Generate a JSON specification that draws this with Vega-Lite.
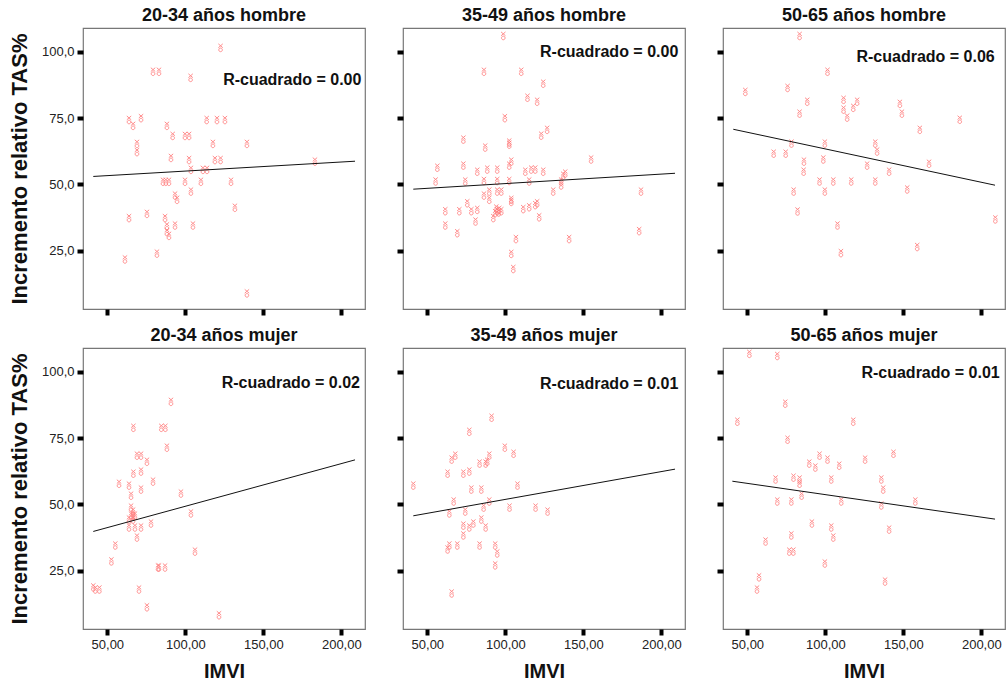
{
  "$schema": "https://vega.github.io/schema/vega-lite/v6.json",
  "background": "white",
  "padding": {"left": 7, "top": 6, "right": 0, "bottom": 0},
  "datasets": {
    "pts": [
      {"g":"H1","IMVI":122.6,"TAS":101.5},{"g":"H1","IMVI":79.3,"TAS":92.5},{"g":"H1","IMVI":83.1,"TAS":92.5},{"g":"H1","IMVI":103.4,"TAS":90.2},{"g":"H1","IMVI":63.9,"TAS":74.3},{"g":"H1","IMVI":66.5,"TAS":72.1},{"g":"H1","IMVI":71.6,"TAS":75.0},{"g":"H1","IMVI":88.2,"TAS":72.1},{"g":"H1","IMVI":91.9,"TAS":68.3},{"g":"H1","IMVI":99.8,"TAS":68.3},{"g":"H1","IMVI":102.4,"TAS":68.3},{"g":"H1","IMVI":113.7,"TAS":74.3},{"g":"H1","IMVI":120.3,"TAS":74.3},{"g":"H1","IMVI":125.4,"TAS":74.3},{"g":"H1","IMVI":117.7,"TAS":65.3},{"g":"H1","IMVI":139.5,"TAS":65.3},{"g":"H1","IMVI":69.0,"TAS":65.3},{"g":"H1","IMVI":69.0,"TAS":62.2},{"g":"H1","IMVI":90.8,"TAS":60.0},{"g":"H1","IMVI":102.4,"TAS":59.2},{"g":"H1","IMVI":119.0,"TAS":59.2},{"g":"H1","IMVI":122.6,"TAS":59.2},{"g":"H1","IMVI":183.1,"TAS":58.6},{"g":"H1","IMVI":103.6,"TAS":55.5},{"g":"H1","IMVI":111.3,"TAS":55.5},{"g":"H1","IMVI":113.9,"TAS":55.5},{"g":"H1","IMVI":85.7,"TAS":51.0},{"g":"H1","IMVI":87.5,"TAS":51.0},{"g":"H1","IMVI":89.5,"TAS":51.0},{"g":"H1","IMVI":99.8,"TAS":51.0},{"g":"H1","IMVI":110.0,"TAS":51.0},{"g":"H1","IMVI":129.3,"TAS":51.0},{"g":"H1","IMVI":103.6,"TAS":47.3},{"g":"H1","IMVI":93.4,"TAS":45.8},{"g":"H1","IMVI":94.7,"TAS":44.2},{"g":"H1","IMVI":131.8,"TAS":41.2},{"g":"H1","IMVI":63.9,"TAS":37.3},{"g":"H1","IMVI":75.4,"TAS":38.9},{"g":"H1","IMVI":87.0,"TAS":37.3},{"g":"H1","IMVI":88.2,"TAS":34.2},{"g":"H1","IMVI":93.4,"TAS":34.5},{"g":"H1","IMVI":104.9,"TAS":34.5},{"g":"H1","IMVI":88.2,"TAS":32.0},{"g":"H1","IMVI":89.5,"TAS":30.6},{"g":"H1","IMVI":61.3,"TAS":21.7},{"g":"H1","IMVI":81.8,"TAS":23.9},{"g":"H1","IMVI":139.5,"TAS":8.9},

      {"g":"H2","IMVI":98.7,"TAS":106.0},{"g":"H2","IMVI":86.3,"TAS":92.5},{"g":"H2","IMVI":110.2,"TAS":92.5},{"g":"H2","IMVI":124.3,"TAS":88.0},{"g":"H2","IMVI":114.2,"TAS":82.7},{"g":"H2","IMVI":120.4,"TAS":81.2},{"g":"H2","IMVI":99.7,"TAS":75.0},{"g":"H2","IMVI":123.0,"TAS":68.4},{"g":"H2","IMVI":126.8,"TAS":70.6},{"g":"H2","IMVI":73.1,"TAS":66.9},{"g":"H2","IMVI":87.1,"TAS":63.9},{"g":"H2","IMVI":102.5,"TAS":65.8},{"g":"H2","IMVI":102.5,"TAS":65.0},{"g":"H2","IMVI":56.4,"TAS":56.3},{"g":"H2","IMVI":73.1,"TAS":57.1},{"g":"H2","IMVI":82.0,"TAS":54.8},{"g":"H2","IMVI":88.4,"TAS":55.6},{"g":"H2","IMVI":94.8,"TAS":55.6},{"g":"H2","IMVI":103.8,"TAS":58.6},{"g":"H2","IMVI":102.5,"TAS":57.1},{"g":"H2","IMVI":112.8,"TAS":54.8},{"g":"H2","IMVI":116.6,"TAS":55.6},{"g":"H2","IMVI":119.2,"TAS":55.6},{"g":"H2","IMVI":124.3,"TAS":54.8},{"g":"H2","IMVI":155.0,"TAS":59.4},{"g":"H2","IMVI":55.3,"TAS":51.1},{"g":"H2","IMVI":74.3,"TAS":51.1},{"g":"H2","IMVI":86.3,"TAS":51.3},{"g":"H2","IMVI":94.8,"TAS":51.3},{"g":"H2","IMVI":102.5,"TAS":51.3},{"g":"H2","IMVI":115.3,"TAS":51.1},{"g":"H2","IMVI":135.8,"TAS":51.1},{"g":"H2","IMVI":137.1,"TAS":53.3},{"g":"H2","IMVI":138.4,"TAS":54.1},{"g":"H2","IMVI":135.8,"TAS":49.6},{"g":"H2","IMVI":130.7,"TAS":47.3},{"g":"H2","IMVI":187.0,"TAS":47.3},{"g":"H2","IMVI":89.7,"TAS":47.3},{"g":"H2","IMVI":94.8,"TAS":47.3},{"g":"H2","IMVI":97.4,"TAS":47.3},{"g":"H2","IMVI":86.3,"TAS":45.8},{"g":"H2","IMVI":89.7,"TAS":44.2},{"g":"H2","IMVI":103.8,"TAS":44.2},{"g":"H2","IMVI":103.8,"TAS":43.4},{"g":"H2","IMVI":75.6,"TAS":42.9},{"g":"H2","IMVI":82.0,"TAS":40.4},{"g":"H2","IMVI":78.2,"TAS":39.9},{"g":"H2","IMVI":70.5,"TAS":39.9},{"g":"H2","IMVI":61.5,"TAS":39.9},{"g":"H2","IMVI":94.8,"TAS":39.9},{"g":"H2","IMVI":96.1,"TAS":40.4},{"g":"H2","IMVI":97.4,"TAS":39.9},{"g":"H2","IMVI":93.5,"TAS":39.2},{"g":"H2","IMVI":95.7,"TAS":39.4},{"g":"H2","IMVI":94.2,"TAS":40.9},{"g":"H2","IMVI":92.3,"TAS":37.3},{"g":"H2","IMVI":111.5,"TAS":40.7},{"g":"H2","IMVI":115.3,"TAS":41.4},{"g":"H2","IMVI":119.2,"TAS":42.2},{"g":"H2","IMVI":120.4,"TAS":42.9},{"g":"H2","IMVI":121.7,"TAS":37.6},{"g":"H2","IMVI":61.5,"TAS":34.5},{"g":"H2","IMVI":69.2,"TAS":31.6},{"g":"H2","IMVI":80.9,"TAS":36.0},{"g":"H2","IMVI":185.8,"TAS":32.4},{"g":"H2","IMVI":106.8,"TAS":29.4},{"g":"H2","IMVI":140.9,"TAS":29.4},{"g":"H2","IMVI":103.8,"TAS":23.8},{"g":"H2","IMVI":105.1,"TAS":18.1},

      {"g":"H3","IMVI":83.5,"TAS":106.0},{"g":"H3","IMVI":101.4,"TAS":92.5},{"g":"H3","IMVI":48.7,"TAS":84.9},{"g":"H3","IMVI":75.8,"TAS":86.4},{"g":"H3","IMVI":88.4,"TAS":81.2},{"g":"H3","IMVI":111.7,"TAS":81.9},{"g":"H3","IMVI":111.7,"TAS":78.2},{"g":"H3","IMVI":120.4,"TAS":81.2},{"g":"H3","IMVI":117.9,"TAS":78.9},{"g":"H3","IMVI":114.0,"TAS":75.2},{"g":"H3","IMVI":83.5,"TAS":76.7},{"g":"H3","IMVI":147.8,"TAS":80.4},{"g":"H3","IMVI":149.1,"TAS":76.7},{"g":"H3","IMVI":186.2,"TAS":74.4},{"g":"H3","IMVI":160.6,"TAS":70.6},{"g":"H3","IMVI":78.3,"TAS":65.4},{"g":"H3","IMVI":99.7,"TAS":65.4},{"g":"H3","IMVI":132.0,"TAS":65.4},{"g":"H3","IMVI":133.2,"TAS":62.4},{"g":"H3","IMVI":66.9,"TAS":61.6},{"g":"H3","IMVI":74.6,"TAS":61.6},{"g":"H3","IMVI":86.3,"TAS":58.6},{"g":"H3","IMVI":98.7,"TAS":59.4},{"g":"H3","IMVI":86.1,"TAS":54.8},{"g":"H3","IMVI":126.8,"TAS":57.1},{"g":"H3","IMVI":140.9,"TAS":54.8},{"g":"H3","IMVI":166.5,"TAS":57.8},{"g":"H3","IMVI":96.3,"TAS":51.1},{"g":"H3","IMVI":105.1,"TAS":51.1},{"g":"H3","IMVI":116.6,"TAS":51.1},{"g":"H3","IMVI":132.0,"TAS":51.1},{"g":"H3","IMVI":79.7,"TAS":47.3},{"g":"H3","IMVI":99.7,"TAS":47.3},{"g":"H3","IMVI":152.5,"TAS":48.1},{"g":"H3","IMVI":82.2,"TAS":39.8},{"g":"H3","IMVI":107.8,"TAS":34.5},{"g":"H3","IMVI":209.0,"TAS":36.8},{"g":"H3","IMVI":110.0,"TAS":24.1},{"g":"H3","IMVI":158.9,"TAS":26.4},

      {"g":"M1","IMVI":90.8,"TAS":88.7},{"g":"M1","IMVI":66.7,"TAS":78.9},{"g":"M1","IMVI":84.6,"TAS":78.9},{"g":"M1","IMVI":87.2,"TAS":78.9},{"g":"M1","IMVI":88.2,"TAS":71.4},{"g":"M1","IMVI":69.0,"TAS":68.4},{"g":"M1","IMVI":71.6,"TAS":68.4},{"g":"M1","IMVI":75.4,"TAS":66.1},{"g":"M1","IMVI":66.7,"TAS":61.6},{"g":"M1","IMVI":71.6,"TAS":62.4},{"g":"M1","IMVI":79.3,"TAS":58.6},{"g":"M1","IMVI":57.5,"TAS":57.8},{"g":"M1","IMVI":63.9,"TAS":57.1},{"g":"M1","IMVI":71.6,"TAS":55.6},{"g":"M1","IMVI":97.2,"TAS":54.1},{"g":"M1","IMVI":65.2,"TAS":53.3},{"g":"M1","IMVI":65.2,"TAS":48.8},{"g":"M1","IMVI":66.5,"TAS":47.3},{"g":"M1","IMVI":65.2,"TAS":45.8},{"g":"M1","IMVI":67.7,"TAS":45.8},{"g":"M1","IMVI":66.5,"TAS":45.8},{"g":"M1","IMVI":63.9,"TAS":44.3},{"g":"M1","IMVI":66.5,"TAS":44.3},{"g":"M1","IMVI":103.6,"TAS":46.6},{"g":"M1","IMVI":63.9,"TAS":41.3},{"g":"M1","IMVI":67.7,"TAS":41.3},{"g":"M1","IMVI":71.6,"TAS":41.3},{"g":"M1","IMVI":78.0,"TAS":42.8},{"g":"M1","IMVI":69.0,"TAS":37.5},{"g":"M1","IMVI":55.1,"TAS":34.5},{"g":"M1","IMVI":106.2,"TAS":32.2},{"g":"M1","IMVI":52.6,"TAS":28.5},{"g":"M1","IMVI":82.5,"TAS":26.2},{"g":"M1","IMVI":83.1,"TAS":26.2},{"g":"M1","IMVI":87.0,"TAS":26.2},{"g":"M1","IMVI":41.0,"TAS":18.7},{"g":"M1","IMVI":42.3,"TAS":17.9},{"g":"M1","IMVI":44.9,"TAS":17.9},{"g":"M1","IMVI":70.3,"TAS":17.9},{"g":"M1","IMVI":75.4,"TAS":11.2},{"g":"M1","IMVI":121.6,"TAS":8.2},

      {"g":"M2","IMVI":91.2,"TAS":82.7},{"g":"M2","IMVI":76.9,"TAS":77.4},{"g":"M2","IMVI":99.7,"TAS":71.4},{"g":"M2","IMVI":105.3,"TAS":69.1},{"g":"M2","IMVI":67.9,"TAS":68.4},{"g":"M2","IMVI":65.6,"TAS":66.9},{"g":"M2","IMVI":83.5,"TAS":65.4},{"g":"M2","IMVI":87.4,"TAS":65.4},{"g":"M2","IMVI":88.4,"TAS":66.1},{"g":"M2","IMVI":89.7,"TAS":68.4},{"g":"M2","IMVI":63.0,"TAS":61.6},{"g":"M2","IMVI":73.1,"TAS":61.6},{"g":"M2","IMVI":76.9,"TAS":62.4},{"g":"M2","IMVI":41.0,"TAS":57.1},{"g":"M2","IMVI":78.2,"TAS":55.6},{"g":"M2","IMVI":84.6,"TAS":55.6},{"g":"M2","IMVI":107.8,"TAS":57.1},{"g":"M2","IMVI":66.9,"TAS":51.1},{"g":"M2","IMVI":89.7,"TAS":51.1},{"g":"M2","IMVI":64.1,"TAS":46.6},{"g":"M2","IMVI":74.3,"TAS":47.3},{"g":"M2","IMVI":86.1,"TAS":48.8},{"g":"M2","IMVI":102.7,"TAS":48.8},{"g":"M2","IMVI":119.4,"TAS":48.8},{"g":"M2","IMVI":127.1,"TAS":47.3},{"g":"M2","IMVI":73.1,"TAS":42.0},{"g":"M2","IMVI":76.9,"TAS":41.3},{"g":"M2","IMVI":79.5,"TAS":42.8},{"g":"M2","IMVI":84.6,"TAS":44.3},{"g":"M2","IMVI":87.4,"TAS":41.3},{"g":"M2","IMVI":73.1,"TAS":38.3},{"g":"M2","IMVI":63.0,"TAS":33.0},{"g":"M2","IMVI":64.1,"TAS":34.5},{"g":"M2","IMVI":69.2,"TAS":34.5},{"g":"M2","IMVI":83.5,"TAS":34.5},{"g":"M2","IMVI":93.5,"TAS":34.5},{"g":"M2","IMVI":94.8,"TAS":31.5},{"g":"M2","IMVI":93.5,"TAS":27.0},{"g":"M2","IMVI":65.6,"TAS":16.4},

      {"g":"M3","IMVI":51.3,"TAS":106.8},{"g":"M3","IMVI":69.2,"TAS":106.0},{"g":"M3","IMVI":74.3,"TAS":88.0},{"g":"M3","IMVI":43.6,"TAS":81.2},{"g":"M3","IMVI":117.9,"TAS":81.2},{"g":"M3","IMVI":75.8,"TAS":74.4},{"g":"M3","IMVI":143.7,"TAS":69.1},{"g":"M3","IMVI":96.3,"TAS":68.4},{"g":"M3","IMVI":101.4,"TAS":66.9},{"g":"M3","IMVI":125.5,"TAS":66.9},{"g":"M3","IMVI":89.7,"TAS":65.4},{"g":"M3","IMVI":93.6,"TAS":63.9},{"g":"M3","IMVI":108.9,"TAS":64.6},{"g":"M3","IMVI":68.1,"TAS":59.4},{"g":"M3","IMVI":79.6,"TAS":60.1},{"g":"M3","IMVI":83.5,"TAS":59.4},{"g":"M3","IMVI":83.5,"TAS":57.8},{"g":"M3","IMVI":103.8,"TAS":59.4},{"g":"M3","IMVI":135.9,"TAS":59.4},{"g":"M3","IMVI":137.1,"TAS":55.6},{"g":"M3","IMVI":84.8,"TAS":53.3},{"g":"M3","IMVI":69.2,"TAS":51.1},{"g":"M3","IMVI":78.2,"TAS":51.1},{"g":"M3","IMVI":110.2,"TAS":51.1},{"g":"M3","IMVI":135.9,"TAS":49.6},{"g":"M3","IMVI":157.7,"TAS":51.1},{"g":"M3","IMVI":91.4,"TAS":42.8},{"g":"M3","IMVI":103.8,"TAS":41.3},{"g":"M3","IMVI":140.9,"TAS":40.5},{"g":"M3","IMVI":78.2,"TAS":38.3},{"g":"M3","IMVI":105.1,"TAS":37.5},{"g":"M3","IMVI":61.7,"TAS":36.0},{"g":"M3","IMVI":76.9,"TAS":32.2},{"g":"M3","IMVI":79.5,"TAS":32.2},{"g":"M3","IMVI":99.7,"TAS":27.7},{"g":"M3","IMVI":57.5,"TAS":22.5},{"g":"M3","IMVI":56.2,"TAS":17.9},{"g":"M3","IMVI":138.3,"TAS":20.9}
    ],
    "fit": [
      {"g":"H1","IMVI":41.0,"TAS":53.0},{"g":"H1","IMVI":208.8,"TAS":58.75},
      {"g":"H2","IMVI":41.0,"TAS":48.2},{"g":"H2","IMVI":208.8,"TAS":54.2},
      {"g":"H3","IMVI":41.0,"TAS":70.8},{"g":"H3","IMVI":208.8,"TAS":49.7},
      {"g":"M1","IMVI":41.0,"TAS":39.8},{"g":"M1","IMVI":208.8,"TAS":66.8},
      {"g":"M2","IMVI":41.0,"TAS":45.7},{"g":"M2","IMVI":208.8,"TAS":63.3},
      {"g":"M3","IMVI":40.4,"TAS":58.75},{"g":"M3","IMVI":208.8,"TAS":44.45}
    ],
    "r2": [
      {"g":"H1","r2":"R-cuadrado = 0.00"},{"g":"H2","r2":"R-cuadrado = 0.00"},{"g":"H3","r2":"R-cuadrado = 0.06"},
      {"g":"M1","r2":"R-cuadrado = 0.02"},{"g":"M2","r2":"R-cuadrado = 0.01"},{"g":"M3","r2":"R-cuadrado = 0.01"}
    ]
  },
  "spacing": 8,
  "vconcat": [
    {"spacing": 28, "hconcat": [
      {"width":282,"height":281,"title":"20-34 años hombre","layer":[
        {"data":{"name":"pts"},"transform":[{"filter":"datum.g=='H1'"}],"mark":{"type":"point","shape":"M-0.55,-1L0.55,-0.05M0.55,-1L-0.55,-0.05M-0.45,0.5A0.45,0.45,0,1,0,0.45,0.5A0.45,0.45,0,1,0,-0.45,0.5Z","size":64,"filled":false,"stroke":"#ff7a7a","strokeWidth":1,"opacity":0.85},
         "encoding":{"x":{"field":"IMVI","type":"quantitative","scale":{"domain":[34.4,215.2],"nice":false,"zero":false},"axis":{"values":[50,100,150,200],"labels":false,"title":null}},
                     "y":{"field":"TAS","type":"quantitative","scale":{"domain":[3,109],"nice":false,"zero":false},"axis":{"values":[25,50,75,100],"title":"Incremento relativo TAS%","labelExpr":"replace(format(datum.value,'.1f'),'.',',')"}}}},
        {"data":{"name":"fit"},"transform":[{"filter":"datum.g=='H1'"}],"mark":{"type":"line","color":"#111","strokeWidth":1},"encoding":{"x":{"field":"IMVI","type":"quantitative"},"y":{"field":"TAS","type":"quantitative"}}},
        {"data":{"name":"r2"},"transform":[{"filter":"datum.g=='H1'"}],"mark":{"type":"text","align":"right","baseline":"middle","fontSize":16,"fontWeight":"bold","color":"#111"},"encoding":{"x":{"datum":212.9},"y":{"datum":89.3},"text":{"field":"r2"}}}
      ]},
      {"width":282,"height":281,"title":"35-49 años hombre","layer":[
        {"data":{"name":"pts"},"transform":[{"filter":"datum.g=='H2'"}],"mark":{"type":"point","shape":"M-0.55,-1L0.55,-0.05M0.55,-1L-0.55,-0.05M-0.45,0.5A0.45,0.45,0,1,0,0.45,0.5A0.45,0.45,0,1,0,-0.45,0.5Z","size":64,"filled":false,"stroke":"#ff7a7a","strokeWidth":1,"opacity":0.85},
         "encoding":{"x":{"field":"IMVI","type":"quantitative","scale":{"domain":[34.4,215.2],"nice":false,"zero":false},"axis":{"values":[50,100,150,200],"labels":false,"title":null}},
                     "y":{"field":"TAS","type":"quantitative","scale":{"domain":[3,109],"nice":false,"zero":false},"axis":{"values":[25,50,75,100],"labels":false,"title":null}}}},
        {"data":{"name":"fit"},"transform":[{"filter":"datum.g=='H2'"}],"mark":{"type":"line","color":"#111","strokeWidth":1},"encoding":{"x":{"field":"IMVI","type":"quantitative"},"y":{"field":"TAS","type":"quantitative"}}},
        {"data":{"name":"r2"},"transform":[{"filter":"datum.g=='H2'"}],"mark":{"type":"text","align":"right","baseline":"middle","fontSize":16,"fontWeight":"bold","color":"#111"},"encoding":{"x":{"datum":210.9},"y":{"datum":99.8},"text":{"field":"r2"}}}
      ]},
      {"width":282,"height":281,"title":"50-65 años hombre","layer":[
        {"data":{"name":"pts"},"transform":[{"filter":"datum.g=='H3'"}],"mark":{"type":"point","shape":"M-0.55,-1L0.55,-0.05M0.55,-1L-0.55,-0.05M-0.45,0.5A0.45,0.45,0,1,0,0.45,0.5A0.45,0.45,0,1,0,-0.45,0.5Z","size":64,"filled":false,"stroke":"#ff7a7a","strokeWidth":1,"opacity":0.85},
         "encoding":{"x":{"field":"IMVI","type":"quantitative","scale":{"domain":[34.4,215.2],"nice":false,"zero":false},"axis":{"values":[50,100,150,200],"labels":false,"title":null}},
                     "y":{"field":"TAS","type":"quantitative","scale":{"domain":[3,109],"nice":false,"zero":false},"axis":{"values":[25,50,75,100],"labels":false,"title":null}}}},
        {"data":{"name":"fit"},"transform":[{"filter":"datum.g=='H3'"}],"mark":{"type":"line","color":"#111","strokeWidth":1},"encoding":{"x":{"field":"IMVI","type":"quantitative"},"y":{"field":"TAS","type":"quantitative"}}},
        {"data":{"name":"r2"},"transform":[{"filter":"datum.g=='H3'"}],"mark":{"type":"text","align":"right","baseline":"middle","fontSize":16,"fontWeight":"bold","color":"#111"},"encoding":{"x":{"datum":208.6},"y":{"datum":98.1},"text":{"field":"r2"}}}
      ]}
    ]},
    {"spacing": 28, "hconcat": [
      {"width":282,"height":281,"title":"20-34 años mujer","layer":[
        {"data":{"name":"pts"},"transform":[{"filter":"datum.g=='M1'"}],"mark":{"type":"point","shape":"M-0.55,-1L0.55,-0.05M0.55,-1L-0.55,-0.05M-0.45,0.5A0.45,0.45,0,1,0,0.45,0.5A0.45,0.45,0,1,0,-0.45,0.5Z","size":64,"filled":false,"stroke":"#ff7a7a","strokeWidth":1,"opacity":0.85},
         "encoding":{"x":{"field":"IMVI","type":"quantitative","scale":{"domain":[34.4,215.2],"nice":false,"zero":false},"axis":{"values":[50,100,150,200],"title":"IMVI","labelExpr":"replace(format(datum.value,'.2f'),'.',',')"}},
                     "y":{"field":"TAS","type":"quantitative","scale":{"domain":[3,109],"nice":false,"zero":false},"axis":{"values":[25,50,75,100],"title":"Incremento relativo TAS%","labelExpr":"replace(format(datum.value,'.1f'),'.',',')"}}}},
        {"data":{"name":"fit"},"transform":[{"filter":"datum.g=='M1'"}],"mark":{"type":"line","color":"#111","strokeWidth":1},"encoding":{"x":{"field":"IMVI","type":"quantitative"},"y":{"field":"TAS","type":"quantitative"}}},
        {"data":{"name":"r2"},"transform":[{"filter":"datum.g=='M1'"}],"mark":{"type":"text","align":"right","baseline":"middle","fontSize":16,"fontWeight":"bold","color":"#111"},"encoding":{"x":{"datum":212.0},"y":{"datum":95.9},"text":{"field":"r2"}}}
      ]},
      {"width":282,"height":281,"title":"35-49 años mujer","layer":[
        {"data":{"name":"pts"},"transform":[{"filter":"datum.g=='M2'"}],"mark":{"type":"point","shape":"M-0.55,-1L0.55,-0.05M0.55,-1L-0.55,-0.05M-0.45,0.5A0.45,0.45,0,1,0,0.45,0.5A0.45,0.45,0,1,0,-0.45,0.5Z","size":64,"filled":false,"stroke":"#ff7a7a","strokeWidth":1,"opacity":0.85},
         "encoding":{"x":{"field":"IMVI","type":"quantitative","scale":{"domain":[34.4,215.2],"nice":false,"zero":false},"axis":{"values":[50,100,150,200],"title":"IMVI","labelExpr":"replace(format(datum.value,'.2f'),'.',',')"}},
                     "y":{"field":"TAS","type":"quantitative","scale":{"domain":[3,109],"nice":false,"zero":false},"axis":{"values":[25,50,75,100],"labels":false,"title":null}}}},
        {"data":{"name":"fit"},"transform":[{"filter":"datum.g=='M2'"}],"mark":{"type":"line","color":"#111","strokeWidth":1},"encoding":{"x":{"field":"IMVI","type":"quantitative"},"y":{"field":"TAS","type":"quantitative"}}},
        {"data":{"name":"r2"},"transform":[{"filter":"datum.g=='M2'"}],"mark":{"type":"text","align":"right","baseline":"middle","fontSize":16,"fontWeight":"bold","color":"#111"},"encoding":{"x":{"datum":210.9},"y":{"datum":95.4},"text":{"field":"r2"}}}
      ]},
      {"width":282,"height":281,"title":"50-65 años mujer","layer":[
        {"data":{"name":"pts"},"transform":[{"filter":"datum.g=='M3'"}],"mark":{"type":"point","shape":"M-0.55,-1L0.55,-0.05M0.55,-1L-0.55,-0.05M-0.45,0.5A0.45,0.45,0,1,0,0.45,0.5A0.45,0.45,0,1,0,-0.45,0.5Z","size":64,"filled":false,"stroke":"#ff7a7a","strokeWidth":1,"opacity":0.85},
         "encoding":{"x":{"field":"IMVI","type":"quantitative","scale":{"domain":[34.4,215.2],"nice":false,"zero":false},"axis":{"values":[50,100,150,200],"title":"IMVI","labelExpr":"replace(format(datum.value,'.2f'),'.',',')"}},
                     "y":{"field":"TAS","type":"quantitative","scale":{"domain":[3,109],"nice":false,"zero":false},"axis":{"values":[25,50,75,100],"labels":false,"title":null}}}},
        {"data":{"name":"fit"},"transform":[{"filter":"datum.g=='M3'"}],"mark":{"type":"line","color":"#111","strokeWidth":1},"encoding":{"x":{"field":"IMVI","type":"quantitative"},"y":{"field":"TAS","type":"quantitative"}}},
        {"data":{"name":"r2"},"transform":[{"filter":"datum.g=='M3'"}],"mark":{"type":"text","align":"right","baseline":"middle","fontSize":16,"fontWeight":"bold","color":"#111"},"encoding":{"x":{"datum":211.8},"y":{"datum":99.4},"text":{"field":"r2"}}}
      ]}
    ]}
  ],
  "config": {
    "font": "Liberation Sans",
    "view": {"stroke": "#777", "strokeWidth": 1.2},
    "title": {"fontSize": 18, "fontWeight": "bold", "font": "Liberation Sans", "color": "#111", "offset": 3},
    "axis": {"grid": false, "domain": false, "ticks": true, "tickColor": "#000", "tickWidth": 4, "tickSize": 6,
             "labelFont": "Liberation Sans", "labelFontSize": 13, "labelColor": "#222", "labelPadding": 3,
             "titleFont": "Liberation Sans", "titleFontSize": 22, "titleFontWeight": "bold", "titleColor": "#111"},
    "axisY": {"titlePadding": 10},
    "axisX": {"titlePadding": 10, "titleFontSize": 20}
  }
}
